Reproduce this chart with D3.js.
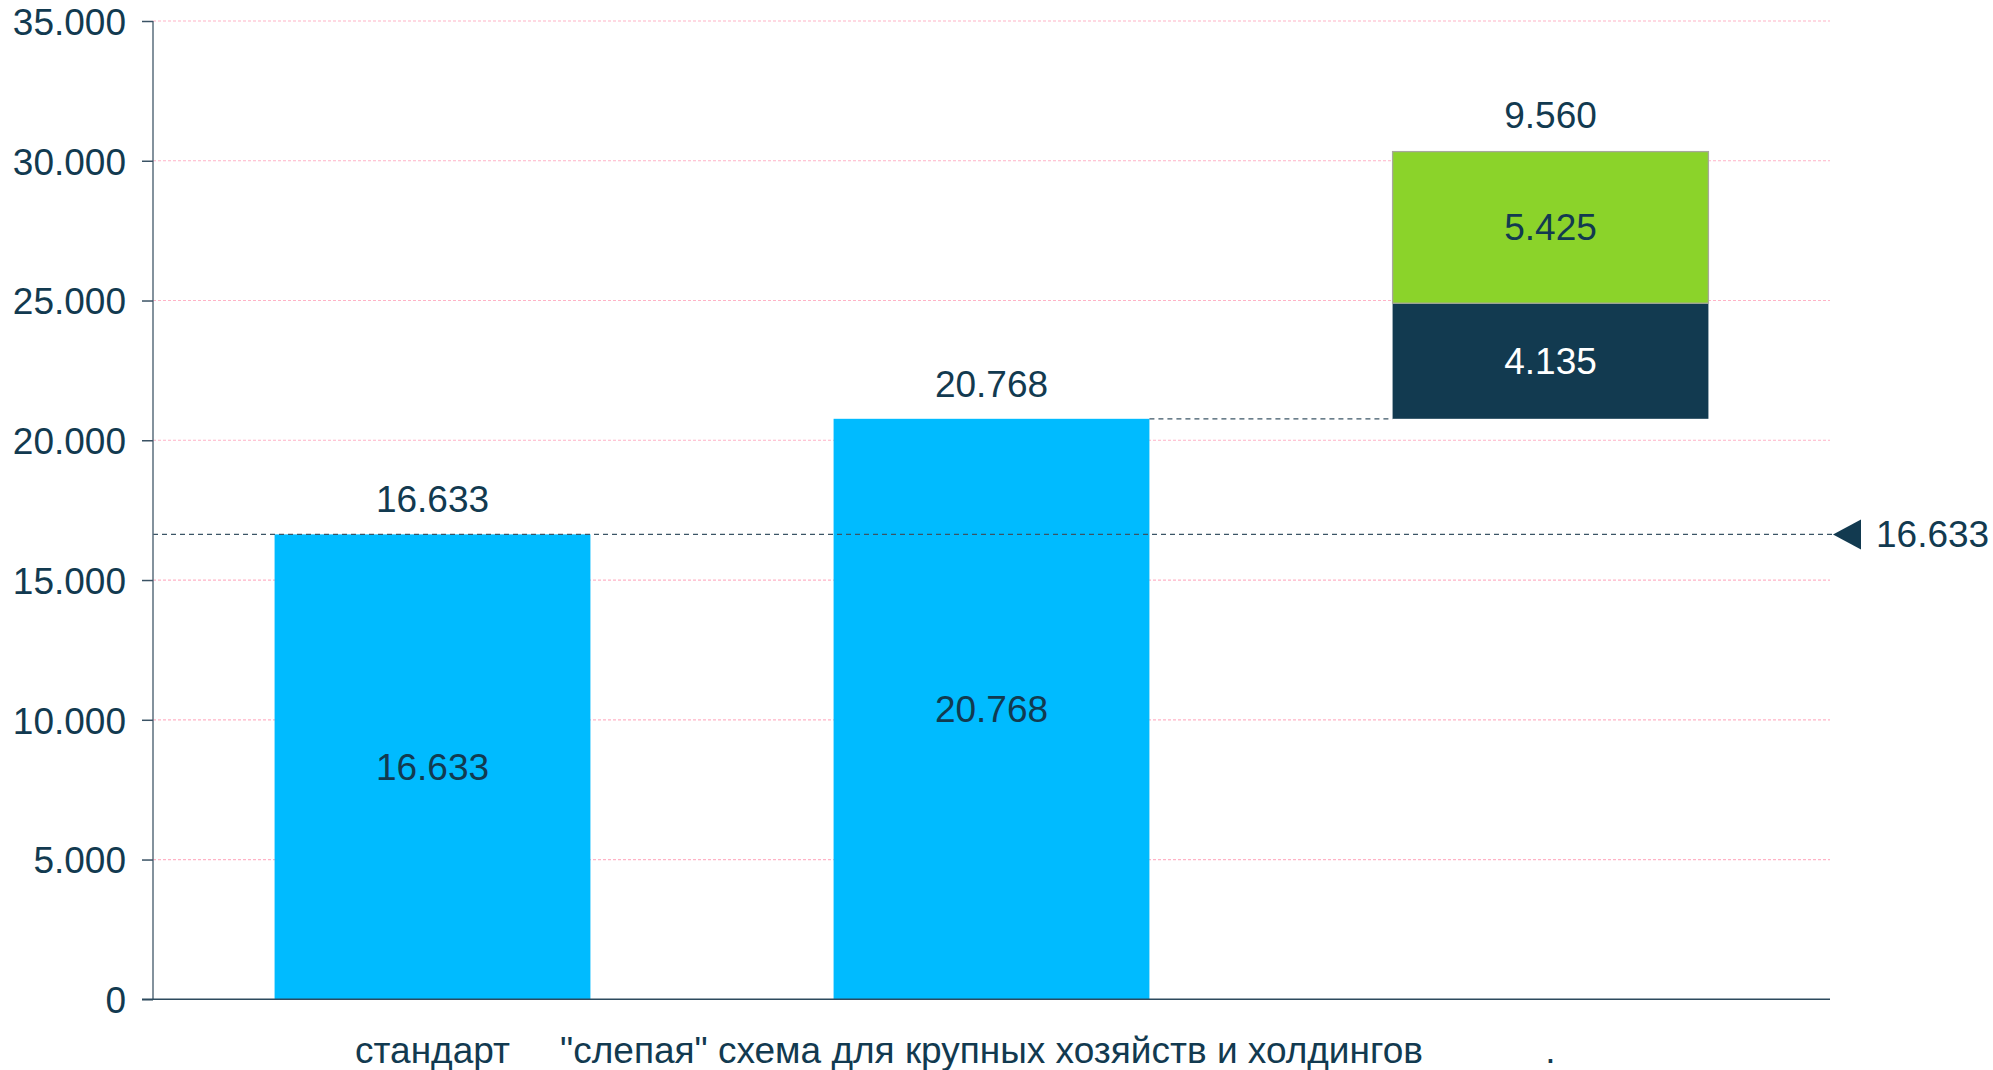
<!DOCTYPE html>
<html>
<head>
<meta charset="utf-8">
<script src="https://cdn.jsdelivr.net/npm/d3@7"></script>
<style>
  html, body { margin: 0; padding: 0; background: #ffffff; }
  svg { display: block; }
  text { font-family: "Liberation Sans", Arial, sans-serif; fill: #123a50; }
</style>
</head>
<body>
<svg id="chart" width="1993" height="1070"></svg>
<script>
// Categories along the x axis
const categories = ["стандарт", "\"слепая\" схема для крупных хозяйств и холдингов", "."];
// Single-value bars (first two categories)
const barValues = [16633, 20768];
// Stacked increment on the third category, starting from the second bar's level
const stackStart = 20768;
const stackSegments = [4135, 5425];
const stackColors = ["#123a50", "#8bd32a"];
const stackLabelColors = ["#ffffff", "#123a50"];
// Reference level marked at the right edge
const referenceValue = 16633;
// Y axis ticks
const yTicks = [0, 5000, 10000, 15000, 20000, 25000, 30000, 35000];

const locale = d3.formatLocale({ decimal: ",", thousands: ".", grouping: [3], currency: ["", ""] });
const fmt = locale.format(",d");

const FS = 37;
const svg = d3.select("#chart");
const margin = { left: 153, right: 163, top: 21, bottom: 71 };
const W = 1993, H = 1070;
const x0 = margin.left, x1 = W - margin.right;
const yTop = margin.top, yBottom = H - margin.bottom;

const x = d3.scaleBand().domain(categories).range([x0, x1]).paddingInner(0.435).paddingOuter(0.2175);
const y = d3.scaleLinear().domain([0, 35000]).range([yBottom + 0.3, yTop]);

// Horizontal grid lines
svg.append("g").selectAll("line").data(yTicks.filter(d => d > 0)).join("line")
  .attr("x1", x0).attr("x2", x1)
  .attr("y1", d => y(d)).attr("y2", d => y(d))
  .attr("stroke", "#ffb3c6").attr("stroke-width", 1.2).attr("stroke-dasharray", "3,2");

// Blue bars
const bars = categories.slice(0, 2).map((c, i) => ({ c, v: barValues[i] }));
svg.append("g").selectAll("rect").data(bars).join("rect")
  .attr("x", d => x(d.c)).attr("width", x.bandwidth())
  .attr("y", d => y(d.v)).attr("height", d => y(0) - y(d.v))
  .attr("fill", "#00bbff");

// Stacked increment bar
let acc = stackStart;
const stack = stackSegments.map((v, i) => { const s = { lo: acc, hi: acc + v, v, i }; acc += v; return s; });
const stackCat = categories[2];
svg.append("g").selectAll("rect").data(stack).join("rect")
  .attr("x", x(stackCat)).attr("width", x.bandwidth())
  .attr("y", d => y(d.hi)).attr("height", d => y(d.lo) - y(d.hi))
  .attr("fill", d => stackColors[d.i])
  .attr("stroke", d => d.i === 1 ? "#a8a89c" : "none")
  .attr("stroke-width", 1.3);

// Connector from the second bar to the stacked bar
svg.append("line")
  .attr("x1", x(categories[1]) + x.bandwidth()).attr("x2", x(stackCat))
  .attr("y1", y(stackStart)).attr("y2", y(stackStart))
  .attr("stroke", "#3b5566").attr("stroke-width", 1.3).attr("stroke-dasharray", "5,4");

// Reference level line
svg.append("line")
  .attr("x1", x0).attr("x2", x1 + 2)
  .attr("y1", y(referenceValue)).attr("y2", y(referenceValue))
  .attr("stroke", "#3b5566").attr("stroke-width", 1.3).attr("stroke-dasharray", "5,4");

const ry = y(referenceValue);
svg.append("path")
  .attr("d", `M${x1 + 3},${ry} L${x1 + 31},${ry - 15} L${x1 + 31},${ry + 15} Z`)
  .attr("fill", "#123a50");
svg.append("text")
  .attr("x", x1 + 46).attr("y", ry + 13)
  .attr("font-size", FS)
  .text(fmt(referenceValue));

// Y axis
const yAxis = d3.axisLeft(y).tickValues(yTicks).tickFormat(d => fmt(d)).tickSize(11).tickPadding(16);
const gy = svg.append("g").attr("transform", `translate(${x0},0)`).call(yAxis);
gy.select(".domain").attr("stroke", "#5a6e7c").attr("stroke-width", 1.5).attr("d", `M0,${yTop}V${yBottom}`);
gy.selectAll(".tick line").attr("stroke", "#3a5264").attr("stroke-width", 1.5);
gy.selectAll(".tick text").attr("font-size", FS).attr("fill", "#123a50")
  .attr("font-family", "\"Liberation Sans\", Arial, sans-serif").attr("dy", "0.36em");

// X axis baseline and category labels
const xAxis = d3.axisBottom(x).tickSize(0).tickPadding(37);
const gx = svg.append("g").attr("transform", `translate(0,${y(0)})`).call(xAxis);
gx.select(".domain").attr("stroke", "#2d4a5e").attr("stroke-width", 1.5).attr("d", `M${x0 - 11},0H${x1}`);
gx.selectAll(".tick text").attr("font-size", FS).attr("fill", "#123a50")
  .attr("font-family", "\"Liberation Sans\", Arial, sans-serif");

// Value labels on top of the blue bars
svg.append("g").selectAll("text").data(bars).join("text")
  .attr("x", d => x(d.c) + x.bandwidth() / 2).attr("y", d => y(d.v) - 22)
  .attr("text-anchor", "middle").attr("font-size", FS)
  .text(d => fmt(d.v));

// Value labels inside the blue bars
svg.append("g").selectAll("text").data(bars).join("text")
  .attr("x", d => x(d.c) + x.bandwidth() / 2).attr("y", d => (y(d.v) + y(0)) / 2 + 13)
  .attr("text-anchor", "middle").attr("font-size", FS)
  .text(d => fmt(d.v));

// Labels inside the stacked segments
svg.append("g").selectAll("text").data(stack).join("text")
  .attr("x", x(stackCat) + x.bandwidth() / 2).attr("y", d => (y(d.hi) + y(d.lo)) / 2 + 13)
  .attr("text-anchor", "middle").attr("font-size", FS)
  .style("fill", d => stackLabelColors[d.i])
  .text(d => fmt(d.v));

// Total of the stacked increment
const stackTotal = d3.sum(stackSegments);
svg.append("text")
  .attr("x", x(stackCat) + x.bandwidth() / 2).attr("y", y(stackStart + stackTotal) - 24)
  .attr("text-anchor", "middle").attr("font-size", FS)
  .text(fmt(stackTotal));
</script>
</body>
</html>
